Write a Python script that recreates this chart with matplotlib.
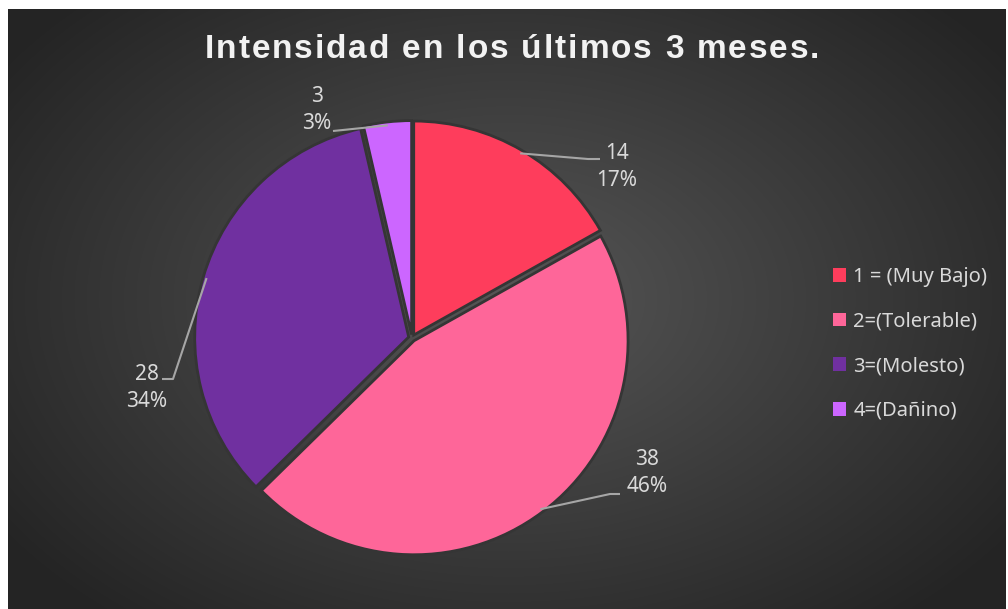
import numpy as np
import matplotlib
matplotlib.use("Agg")
import matplotlib.pyplot as plt

# datos del grafico
categorias = ["1 = (Muy Bajo)", "2=(Tolerable)", "3=(Molesto)", "4=(Dañino)"]
valores = [14, 38, 28, 3]
porcentajes = [17, 46, 34, 3]
colores = ["#FE3D5C", "#FE6699", "#7030A0", "#CC66FF"]
titulo = "Intensidad en los últimos 3 meses."

W, H = 1008, 609
fig = plt.figure(figsize=(W / 100, H / 100), dpi=100, facecolor="white")

# fondo con degradado radial
bg = fig.add_axes([8 / W, 0, 998 / W, 600 / H])
yy, xx = np.mgrid[0:600, 0:998]
d = np.sqrt(((xx - 500) / 620.0) ** 2 + ((yy - 290) / 420.0) ** 2)
d = np.clip(d, 0, 1)
g = (0x56 - (0x56 - 0x24) * d) / 255.0
bg.imshow(np.dstack([g, g, g]), aspect="auto", interpolation="bilinear")
bg.set_axis_off()

# ejes para el pastel: 1 unidad = R pixeles
R = 214.0
cx, cy = 412.0, 338.0          # centro en pixeles (desde arriba)
ax = fig.add_axes([0, 0, 1, 1])
ax.patch.set_alpha(0)


def px(x, y):
    # pixeles -> datos
    return (x - cx) / R, (cy - y) / R


wedges, _ = ax.pie(valores, colors=colores, startangle=90, counterclock=False,
                   radius=1.0, explode=[0.016] * 4,
                   wedgeprops=dict(edgecolor="#353535", linewidth=2))
# pie() cambia los limites, se ponen despues
ax.set_xlim(-cx / R, (W - cx) / R)
ax.set_ylim(-(H - cy) / R, cy / R)
ax.set_axis_off()

# etiquetas con lineas guia
pos_etiqueta = [(617, 167), (647, 473), (147, 388), (317, 110)]
codo = [(600, 159), (620, 494), (162, 379), (333, 131)]
quiebre = [588, 610, 173, None]
for i, w in enumerate(wedges):
    ang = np.deg2rad((w.theta1 + w.theta2) / 2)
    x0, y0 = np.cos(ang) * 1.0, np.sin(ang) * 1.0
    x1, y1 = px(*codo[i])
    if quiebre[i] is not None:
        xs, ys = [x0, px(quiebre[i], 0)[0], x1], [y0, y1, y1]
    else:
        xs, ys = [x0, x1], [y0, y1]
    ax.plot(xs, ys, color="#A6A6A6", lw=1.5, solid_capstyle="butt")
    lx, ly = px(*pos_etiqueta[i])
    ax.text(lx, ly, f"{valores[i]}\n{porcentajes[i]}%", ha="center", va="center",
            fontsize=15, color="#D9D9D9", family="Noto Sans", linespacing=1.4)

# titulo con espaciado entre letras
fig.canvas.draw()
rend = fig.canvas.get_renderer()
tprops = dict(fontsize=24, fontweight="bold", color="#F2F2F2",
              family="Liberation Sans", va="center", ha="left")


def ancho(s):
    if not s.strip():
        return 0.0
    t = fig.text(0, 0, s, **tprops)
    w = t.get_window_extent(rend).width
    t.remove()
    return w


esp = 1.9
total = ancho(titulo) + esp * (len(titulo) - 1)
x_ini = 512 - total / 2
for i, ch in enumerate(titulo):
    if ch == " ":
        continue
    x = x_ini + ancho(titulo[:i + 1]) - ancho(ch) + esp * i
    fig.text(x / W, 1 - 50 / H, ch, **tprops)

# leyenda
leg = fig.legend(wedges, categorias, loc="center left",
                 bbox_to_anchor=(815 / W, 1 - 344 / H), frameon=False,
                 prop=dict(family="Noto Sans", size=14.5), labelcolor="#D9D9D9",
                 handlelength=0.65, handleheight=0.65, handletextpad=0.35,
                 labelspacing=1.22)
for h in leg.legend_handles:
    h.set_edgecolor("none")

fig.savefig("out.png", dpi=100, facecolor="white")
